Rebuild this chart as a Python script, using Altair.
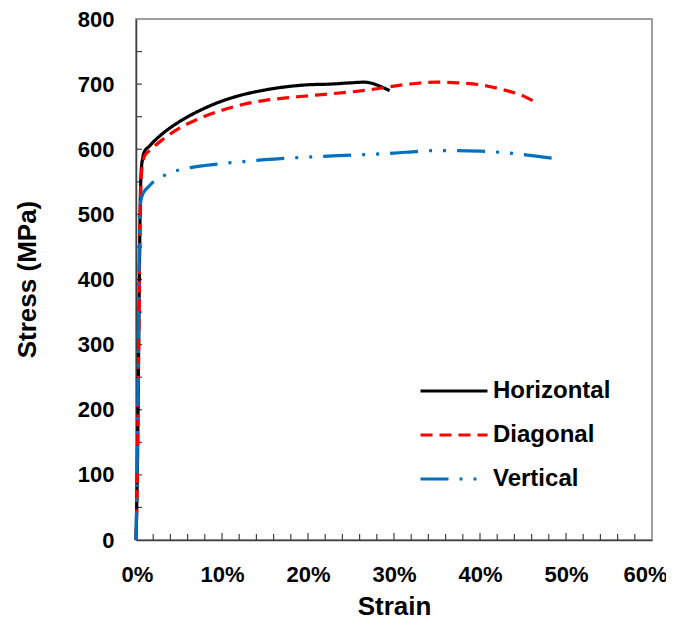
import altair as alt
import pandas as pd

# ---- data ----
series_names = ["Horizontal", "Diagonal", "Vertical"]

strain_h = [0, 0.1, 0.2, 0.3, 0.4, 0.5, 0.6, 0.8, 1.0, 1.5, 2, 3, 5, 7.5, 10, 12.5, 15, 17.5, 20, 22.5, 25, 26.5, 27.5, 28.5, 29.5]
stress_h = [0, 60, 150, 280, 420, 520, 565, 588, 597, 604, 611, 623, 642, 660, 674, 684, 691, 696, 699, 700, 702, 703, 701, 696, 690]

strain_d = [0, 0.1, 0.2, 0.3, 0.4, 0.5, 0.6, 0.8, 1.0, 1.5, 2, 3, 5, 7.5, 10, 12.5, 15, 17.5, 20, 22.5, 25, 27.5, 30, 32.5, 35, 37.5, 40, 42.5, 45, 46.5]
stress_d = [0, 60, 150, 280, 420, 510, 555, 580, 590, 597, 603, 614, 632, 648, 660, 669, 675, 679, 682, 685, 688, 692, 697, 701, 703, 702, 699, 692, 682, 672]

strain_v = [0, 0.1, 0.2, 0.3, 0.4, 0.5, 0.7, 1, 1.5, 2, 3, 4, 6, 8, 10, 12.5, 15, 20, 25, 30, 33, 35, 40, 45, 49]
stress_v = [0, 80, 200, 350, 470, 515, 528, 536, 543, 550, 558, 564, 571, 575, 578, 581, 584, 588, 591, 594, 597, 598, 597, 592, 585]

x_major = [0, 0.1, 0.2, 0.3, 0.4, 0.5, 0.6]
x_minor = [0.02, 0.04, 0.06, 0.08, 0.12, 0.14, 0.16, 0.18, 0.22, 0.24, 0.26, 0.28,
           0.32, 0.34, 0.36, 0.38, 0.42, 0.44, 0.46, 0.48, 0.52, 0.54, 0.56, 0.58]
x_major_inner = [0.1, 0.2, 0.3, 0.4, 0.5]
y_major = [0, 100, 200, 300, 400, 500, 600, 700, 800]
y_inner = [50, 100, 150, 200, 250, 300, 350, 400, 450, 500, 550, 600, 650, 700, 750]

colors = ["#000000", "#FF0000", "#0070C0"]
dashes = [[1, 0], [12, 7], [28, 11, 3, 11, 3, 11]]

rows = []
for name, xs, ys in [("Horizontal", strain_h, stress_h),
                     ("Diagonal", strain_d, stress_d),
                     ("Vertical", strain_v, stress_v)]:
    for i, (s, t) in enumerate(zip(xs, ys)):
        rows.append({"series": name, "strain": s / 100.0, "stress": t, "order": i})
df = pd.DataFrame(rows)

FONT = "Liberation Sans"
xscale = alt.Scale(domain=[0, 0.6], nice=False)
yscale = alt.Scale(domain=[0, 800], nice=False)

xaxis = alt.Axis(values=x_major, format=".0%", ticks=False, grid=False,
                 labelFlush=True, labelFlushOffset=15,
                 labelFont=FONT, labelFontSize=22, labelFontWeight="bold",
                 labelColor="black", labelPadding=24,
                 domainColor="#404040", domainWidth=1.5,
                 title="Strain", titleFont=FONT, titleFontSize=26,
                 titleFontWeight="bold", titleColor="black",
                 titleX=258, titleY=66, titleBaseline="middle", titleAlign="center")
yaxis = alt.Axis(values=y_major, ticks=False, grid=False, labelFlush=False,
                 labelFont=FONT, labelFontSize=22, labelFontWeight="bold",
                 labelColor="black", labelPadding=22,
                 domainColor="#404040", domainWidth=1.5,
                 title="Stress (MPa)", titleFont=FONT, titleFontSize=26,
                 titleFontWeight="bold", titleColor="black",
                 titleX=-109, titleY=260, titleBaseline="middle", titleAlign="center")

legend = alt.Legend(
    orient="none", legendX=283, legendY=361, title=None,
    symbolType="stroke", symbolSize=4489, symbolStrokeWidth=3,
    labelFont=FONT, labelFontSize=24, labelFontWeight="bold", labelColor="black",
    clipHeight=22, rowPadding=20, labelOffset=4, padding=0,
)

ytick_df = pd.DataFrame({"v": y_inner})
yticks = alt.Chart(ytick_df).mark_rule(color="#404040", strokeWidth=1.2).encode(
    y=alt.Y("v:Q", scale=yscale, axis=yaxis, title="Stress (MPa)"),
    x=alt.value(0), x2=alt.value(6),
)

xminor_df = pd.DataFrame({"v": x_minor})
xminor = alt.Chart(xminor_df).mark_rule(color="#404040", strokeWidth=1.2).encode(
    x=alt.X("v:Q", scale=xscale, axis=xaxis, title="Strain"),
    y=alt.value(521), y2=alt.value(515),
)

xmajor_df = pd.DataFrame({"v": x_major_inner})
xmajor = alt.Chart(xmajor_df).mark_rule(color="#404040", strokeWidth=1.2).encode(
    x=alt.X("v:Q", scale=xscale, axis=xaxis, title="Strain"),
    y=alt.value(521), y2=alt.value(514),
)

lines = alt.Chart(df).mark_line(strokeWidth=3.2, interpolate="monotone").encode(
    x=alt.X("strain:Q", scale=xscale, axis=xaxis, title="Strain"),
    y=alt.Y("stress:Q", scale=yscale, axis=yaxis, title="Stress (MPa)"),
    color=alt.Color("series:N", scale=alt.Scale(domain=series_names, range=colors), legend=legend),
    strokeDash=alt.StrokeDash("series:N", scale=alt.Scale(domain=series_names, range=dashes), legend=legend),
    order="order:Q",
)

chart = alt.layer(yticks, xminor, xmajor, lines).properties(
    width=516, height=521,
    padding={"left": 128, "top": 11, "right": 14, "bottom": 79},
    autosize=alt.AutoSizeParams(type="none"),
).configure_view(stroke="#808080", strokeWidth=1.5)

chart.save("out.html", embed_options={"renderer": "svg", "actions": False})
